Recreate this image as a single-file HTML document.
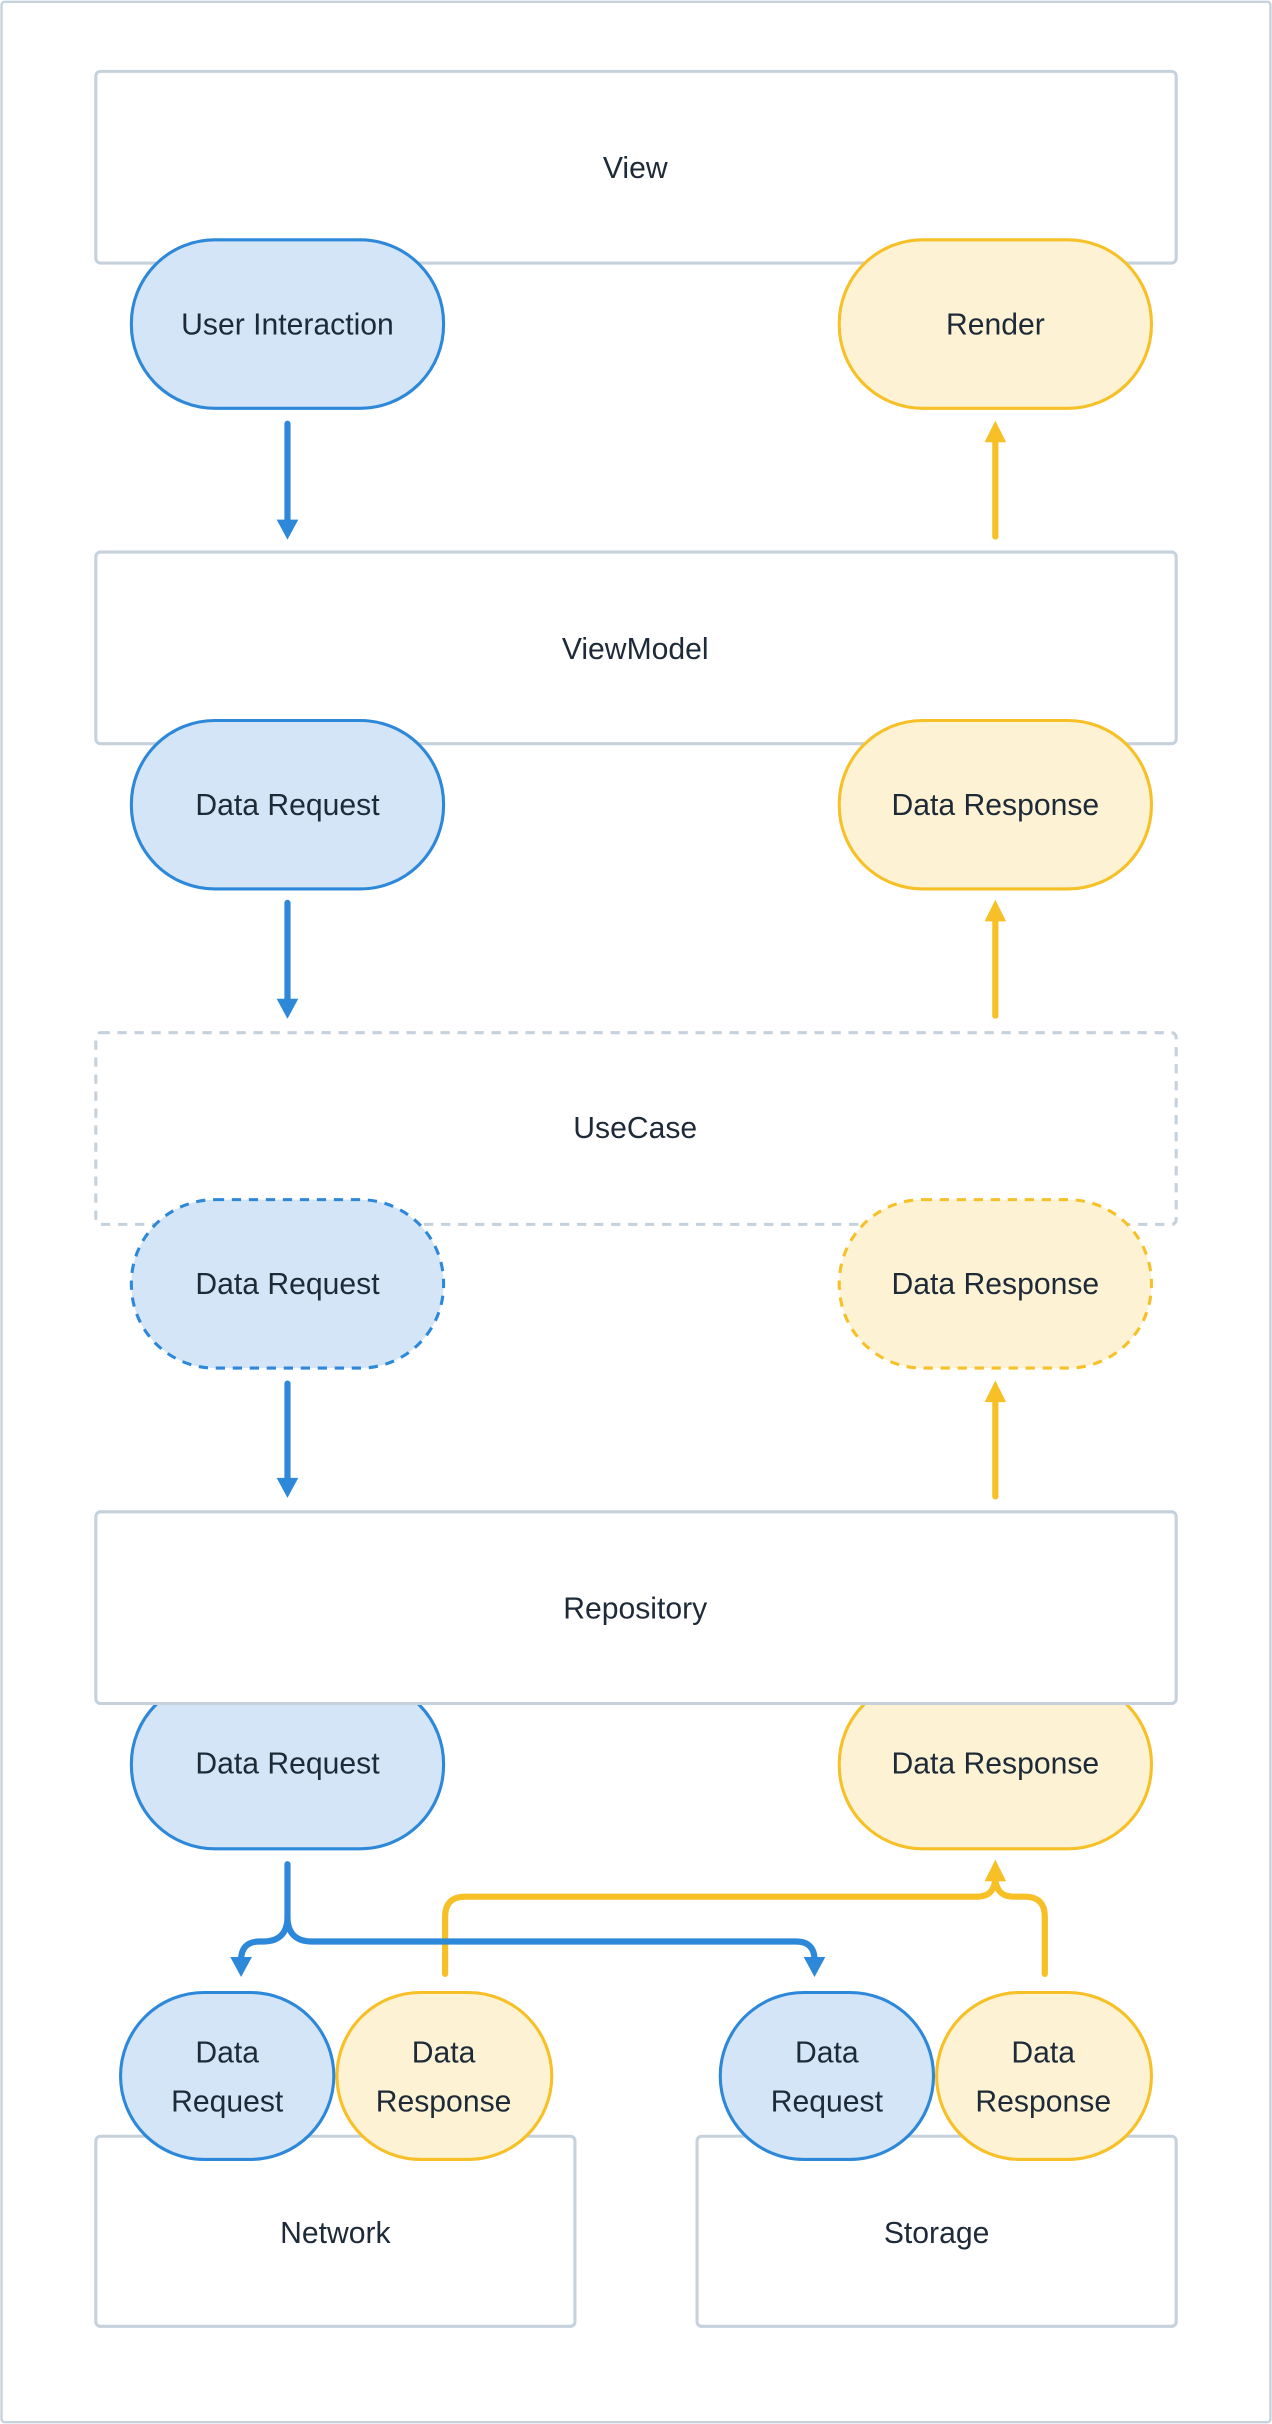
<!DOCTYPE html>
<html><head><meta charset="utf-8"><style>
html,body{margin:0;padding:0;background:#fff}
svg{display:block}
text{font-family:"Liberation Sans",sans-serif;font-size:19.5px;fill:#1e2a38;text-anchor:middle;dominant-baseline:central}
</style></head><body>
<svg width="1272" height="2424" viewBox="0 0 823 1568" xmlns="http://www.w3.org/2000/svg">
<rect x="1" y="1" width="821" height="1566" fill="#fff" stroke="#c5d1dc" stroke-width="1.5" rx="2"/>

<g stroke="#c5d1dc" stroke-width="2" fill="#fff">
<rect x="62" y="46" width="699" height="124" rx="3"/>
<rect x="62" y="357" width="699" height="124" rx="3"/>
<rect x="62" y="668" width="699" height="124" rx="3" stroke-dasharray="6,5"/>
</g>
<text x="411" y="109">View</text>
<text x="411" y="420">ViewModel</text>
<text x="411" y="730">UseCase</text>

<g stroke-width="2">
<rect x="85" y="155" width="202" height="109" rx="54" fill="#d3e5f6" stroke="#2e88d9"/>
<rect x="543" y="155" width="202" height="109" rx="54" fill="#fdf2d3" stroke="#f6c026"/>
<rect x="85" y="466" width="202" height="109" rx="54" fill="#d3e5f6" stroke="#2e88d9"/>
<rect x="543" y="466" width="202" height="109" rx="54" fill="#fdf2d3" stroke="#f6c026"/>
<rect x="85" y="776" width="202" height="109" rx="54" fill="#d3e5f6" stroke="#2e88d9" stroke-dasharray="6,5"/>
<rect x="543" y="776" width="202" height="109" rx="54" fill="#fdf2d3" stroke="#f6c026" stroke-dasharray="6,5"/>
<rect x="85" y="1087" width="202" height="109" rx="54" fill="#d3e5f6" stroke="#2e88d9"/>
<rect x="543" y="1087" width="202" height="109" rx="54" fill="#fdf2d3" stroke="#f6c026"/>
</g>
<rect x="62" y="978" width="699" height="124" rx="3" fill="#fff" stroke="#c5d1dc" stroke-width="2"/>
<text x="411" y="1041">Repository</text>

<text x="186" y="210">User Interaction</text>
<text x="644" y="210">Render</text>
<text x="186" y="521">Data Request</text>
<text x="644" y="521">Data Response</text>
<text x="186" y="831">Data Request</text>
<text x="644" y="831">Data Response</text>
<text x="186" y="1141">Data Request</text>
<text x="644" y="1141">Data Response</text>

<g stroke-width="4" stroke-linecap="round" fill="none">
<path d="M186,274 V338" stroke="#2e88d9"/>
<path d="M186,584 V648" stroke="#2e88d9"/>
<path d="M186,895 V958" stroke="#2e88d9"/>
<path d="M644,347 V284" stroke="#f6c026"/>
<path d="M644,657 V594" stroke="#f6c026"/>
<path d="M644,968 V905" stroke="#f6c026"/>
</g>
<g fill="#2e88d9">
<path d="M179,336 L193,336 L186,349 z"/>
<path d="M179,646 L193,646 L186,659 z"/>
<path d="M179,956 L193,956 L186,969 z"/>
<path d="M149,1266 L163,1266 L156,1279 z"/>
<path d="M520,1266 L534,1266 L527,1279 z"/>
</g>
<g fill="#f6c026">
<path d="M637,286 L651,286 L644,272 z"/>
<path d="M637,596 L651,596 L644,582 z"/>
<path d="M637,907 L651,907 L644,893 z"/>
<path d="M637,1217 L651,1217 L644,1203 z"/>
</g>

<g stroke-width="4" stroke-linecap="round" fill="none">
<path d="M288,1277 V1240 Q288,1227 301,1227 H632 Q644,1227 644,1214" stroke="#f6c026"/>
<path d="M676,1277 V1240 Q676,1227 663,1227 H656 Q644,1227 644,1214" stroke="#f6c026"/>
<path d="M186,1206 V1240 Q186,1256 170,1256 H168 Q156,1256 156,1268" stroke="#2e88d9"/>
<path d="M186,1240 Q186,1256 202,1256 H515 Q527,1256 527,1268" stroke="#2e88d9"/>
</g>

<g stroke="#c5d1dc" stroke-width="2" fill="#fff">
<rect x="62" y="1382" width="310" height="123" rx="3"/>
<rect x="451" y="1382" width="310" height="123" rx="3"/>
</g>
<text x="217" y="1445">Network</text>
<text x="606" y="1445">Storage</text>

<g stroke-width="2">
<rect x="78" y="1289" width="138" height="108" rx="54" fill="#d3e5f6" stroke="#2e88d9"/>
<rect x="218" y="1289" width="139" height="108" rx="54" fill="#fdf2d3" stroke="#f6c026"/>
<rect x="466" y="1289" width="138" height="108" rx="54" fill="#d3e5f6" stroke="#2e88d9"/>
<rect x="606" y="1289" width="139" height="108" rx="54" fill="#fdf2d3" stroke="#f6c026"/>
</g>
<text x="147" y="1328">Data</text><text x="147" y="1360">Request</text>
<text x="287" y="1328">Data</text><text x="287" y="1360">Response</text>
<text x="535" y="1328">Data</text><text x="535" y="1360">Request</text>
<text x="675" y="1328">Data</text><text x="675" y="1360">Response</text>
</svg>
</body></html>
